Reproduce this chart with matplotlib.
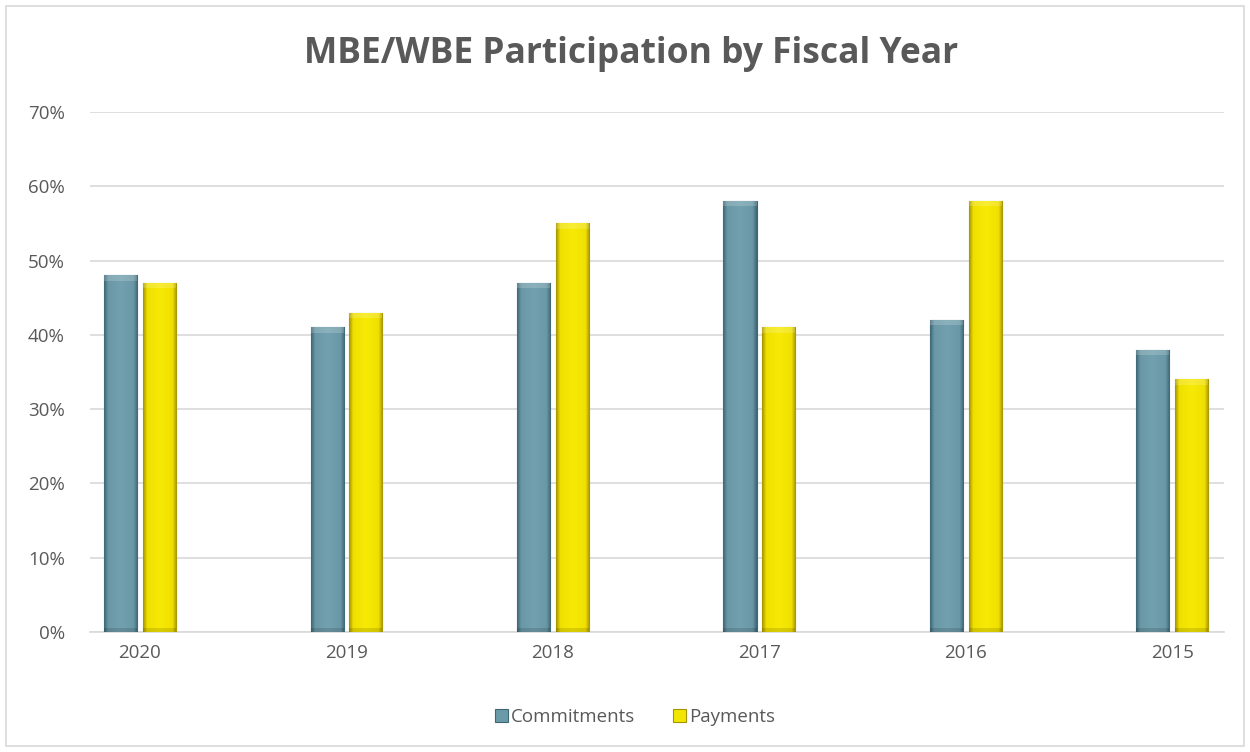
import matplotlib
matplotlib.use('Agg')
import matplotlib.pyplot as plt
import numpy as np
from matplotlib.colors import LinearSegmentedColormap
from matplotlib.patches import Rectangle
from matplotlib.ticker import PercentFormatter

years = ['2020', '2019', '2018', '2017', '2016', '2015']
commitments = [0.48, 0.41, 0.47, 0.58, 0.42, 0.38]
payments = [0.47, 0.43, 0.55, 0.41, 0.58, 0.34]

plt.rcParams['font.family'] = ['Open Sans', 'DejaVu Sans']

grey_txt = '#595959'
grid_col = '#d9d9d9'

# bevel-ish look: dark edges, flat lighter middle
comm_cmap = LinearSegmentedColormap.from_list(
    'comm', [(0, '#3e6775'), (0.12, '#6a98a6'), (0.5, '#72a0ae'), (0.88, '#6a98a6'), (1, '#3e6775')])
pay_cmap = LinearSegmentedColormap.from_list(
    'pay', [(0, '#a49400'), (0.12, '#f0e000'), (0.5, '#f7ea05'), (0.88, '#f0e000'), (1, '#a49400')])

fig = plt.figure(figsize=(12.5, 7.52), dpi=100)
ax = fig.add_axes([0.072, 0.1596, 0.9072, 0.6915])

x = np.arange(len(years))
width = 0.16
offset = 0.094

bars_c = ax.bar(x - offset, commitments, width, color='#6b9aa9', edgecolor='#3e6775', linewidth=0.8,
                label='Commitments', zorder=3)
bars_p = ax.bar(x + offset, payments, width, color='#f2e600', edgecolor='#a49400', linewidth=0.8,
                label='Payments', zorder=3)

grad = np.linspace(0, 1, 64).reshape(1, -1)
for bars, cmap in ((bars_c, comm_cmap), (bars_p, pay_cmap)):
    for b in bars:
        x0, y0 = b.get_x(), b.get_y()
        w, h = b.get_width(), b.get_height()
        im = ax.imshow(grad, cmap=cmap, extent=(x0, x0 + w, y0, y0 + h), aspect='auto', zorder=3.5,
                       interpolation='bicubic')
        im.set_clip_path(b)
        # faint lighter cap at the top, like the bevel
        ax.add_patch(Rectangle((x0, y0 + h - 0.007), w, 0.007, facecolor='white', alpha=0.18,
                               edgecolor='none', zorder=3.6))
        # slightly darker foot
        ax.add_patch(Rectangle((x0, y0), w, 0.006, facecolor='black', alpha=0.12,
                               edgecolor='none', zorder=3.6))

ax.set_xlim(-0.242, 5.25)
ax.set_ylim(0, 0.7)
ax.set_yticks(np.arange(0, 0.71, 0.1))
ax.yaxis.set_major_formatter(PercentFormatter(1.0, decimals=0))
ax.set_xticks(x)
ax.set_xticklabels(years)
ax.tick_params(axis='both', length=0, labelsize=13.5, colors=grey_txt)
ax.tick_params(axis='x', pad=9)
ax.tick_params(axis='y', pad=18)

ax.yaxis.grid(True, color=grid_col, linewidth=1.2, zorder=0)
ax.set_axisbelow(True)
for s in ['top', 'right', 'left']:
    ax.spines[s].set_visible(False)
ax.spines['bottom'].set_color(grid_col)
ax.spines['bottom'].set_linewidth(1.2)

fig.text(0.505, 0.928, 'MBE/WBE Participation by Fiscal Year', ha='center', va='center',
         fontsize=25.5, fontweight='bold', color=grey_txt)

leg = fig.legend(handles=[bars_c, bars_p], labels=['Commitments', 'Payments'], loc='center',
                 bbox_to_anchor=(0.508, 0.046), ncol=2, frameon=False, fontsize=13.5,
                 handlelength=0.7, handleheight=0.7, handletextpad=0.15, columnspacing=2.0)
for t in leg.get_texts():
    t.set_color(grey_txt)

fig.patches.append(Rectangle((0.005, 0.008), 0.99, 0.984, transform=fig.transFigure, fill=False,
                             edgecolor='#d9d9d9', linewidth=1.2))

fig.savefig('out.png', dpi=100)
